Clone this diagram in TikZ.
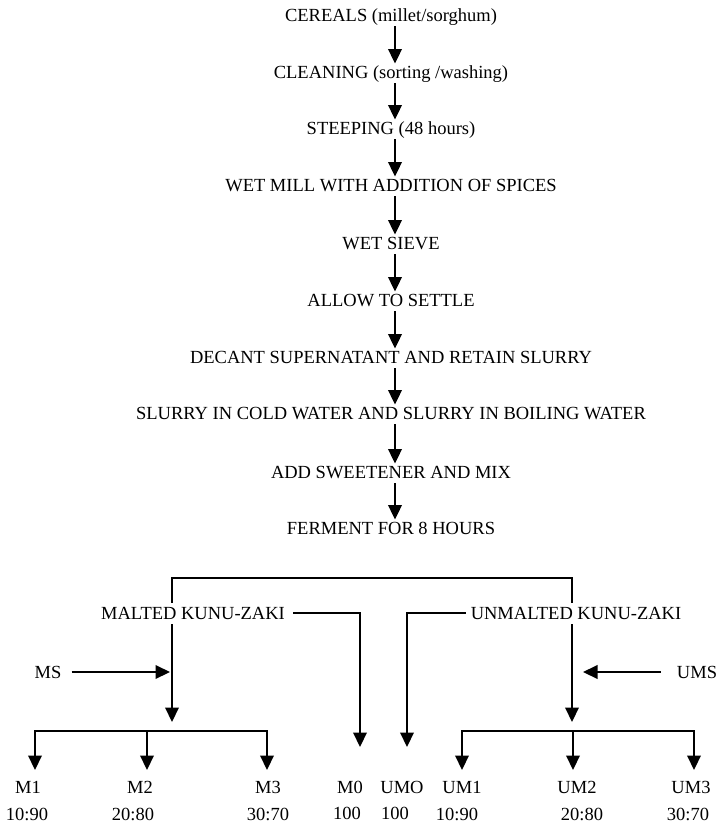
\documentclass[tikz,border=0pt]{standalone}
\usepackage{fontspec}
\setmainfont{Liberation Serif}
\usetikzlibrary{arrows.meta}
\begin{document}
\begin{tikzpicture}[x=1pt,y=-1pt,
  txt/.style={inner sep=0pt,text height=12.5pt,text depth=0pt,font=\fontsize{18.5}{22}\selectfont},
  ln/.style={line width=2.1pt},
  arr/.style={line width=2.1pt,-{Triangle[width=13.5pt,length=14.5pt]}},
  flow/.style={arr,shorten <=5pt,shorten >=2pt}]
\useasboundingbox[fill=white] (0,0) rectangle (720,824);
% main flow
\node[txt] (s1) at (391,15) {CEREALS (millet/sorghum)};
\node[txt] (s2) at (391,72) {CLEANING (sorting /washing)};
\node[txt] (s3) at (391,128) {STEEPING (48 hours)};
\node[txt] (s4) at (391,185) {WET MILL WITH ADDITION OF SPICES};
\node[txt] (s5) at (391,243) {WET SIEVE};
\node[txt] (s6) at (391,300) {ALLOW TO SETTLE};
\node[txt] (s7) at (391,357) {DECANT SUPERNATANT AND RETAIN SLURRY};
\node[txt] (s8) at (391,413) {SLURRY IN COLD WATER AND SLURRY IN BOILING WATER};
\node[txt] (s9) at (391,472) {ADD SWEETENER AND MIX};
\node[txt] (s10) at (391,528) {FERMENT FOR 8 HOURS};
\foreach \a/\b in {s1/s2,s2/s3,s3/s4,s4/s5,s5/s6,s6/s7,s7/s8,s8/s9,s9/s10}
  \draw[flow] ([xshift=4pt]\a.south) -- ([xshift=4pt]\b.north);
% branches
\node[txt] (mk) at (193,613) {MALTED KUNU-ZAKI};
\node[txt] (umk) at (576,613) {UNMALTED KUNU-ZAKI};
\coordinate (lx) at (172,0);
\coordinate (rx) at (572,0);
\coordinate (top) at (0,578);
\draw[ln] ([yshift=4pt]mk.north -| lx) -- (lx |- top) -- (rx |- top) -- ([yshift=4pt]umk.north -| rx);
\coordinate (ltip) at (172,722);
\coordinate (rtip) at (572,722);
\draw[arr] ([yshift=-5pt]mk.south -| lx) -- (ltip);
\draw[arr] ([yshift=-5pt]umk.south -| rx) -- (rtip);
\coordinate (m0tip) at (360,747);
\coordinate (umotip) at (407,747);
\draw[arr] ([xshift=8pt]mk.east) -| (m0tip);
\draw[arr] ([xshift=-5pt]umk.west) -| (umotip);
% supplements
\node[txt] (ms) at (48,672) {MS};
\node[txt] (ums) at (697,672) {UMS};
\coordinate (mstip) at (170,672);
\coordinate (umstip) at (583,672);
\draw[arr] ([xshift=10pt]ms.east) -- (mstip);
\draw[arr] ([xshift=-16pt]ums.west) -- (umstip);
% bottom bars
\coordinate (lb) at (147,731);
\coordinate (rb) at (573,731);
\coordinate (c1) at (35,770);
\coordinate (c2) at (147,770);
\coordinate (c3) at (267,770);
\coordinate (d1) at (462,770);
\coordinate (d2) at (573,770);
\coordinate (d3) at (694,770);
\draw[arr] (lb) -| (c1);
\draw[arr] (lb) -- (c2);
\draw[arr] (lb) -| (c3);
\draw[arr] (rb) -| (d1);
\draw[arr] (rb) -- (d2);
\draw[arr] (rb) -| (d3);
% labels
\node[txt] (m1) at (28,787) {M1};
\node[txt] (m2) at (140,787) {M2};
\node[txt] (m3) at (268,787) {M3};
\node[txt] (m0) at (350,787) {M0};
\node[txt] (umo) at (402,787) {UMO};
\node[txt] (um1) at (462,787) {UM1};
\node[txt] (um2) at (577,787) {UM2};
\node[txt] (um3) at (691,787) {UM3};
\node[txt] (r1) at (27,814) {10:90};
\node[txt] (r2) at (133,814) {20:80};
\node[txt] (r3) at (268,814) {30:70};
\node[txt] (r0) at (347,813) {100};
\node[txt] (ru0) at (395,813) {100};
\node[txt] (ru1) at (457,814) {10:90};
\node[txt] (ru2) at (582,814) {20:80};
\node[txt] (ru3) at (688,814) {30:70};
\end{tikzpicture}
\end{document}
